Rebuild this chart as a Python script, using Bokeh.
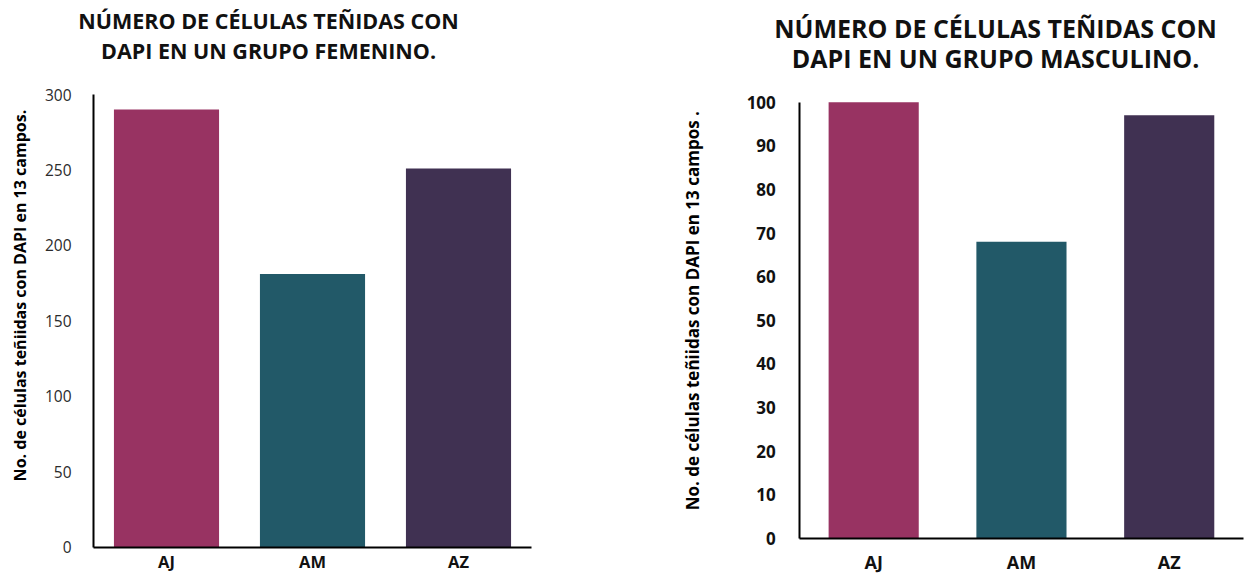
import math
from bokeh.plotting import figure
from bokeh.models import Range1d, Label, LinearAxis, FixedTicker, SingleIntervalTicker
from bokeh.embed import file_html
from bokeh.resources import INLINE

# DAPI-stained cell counts over 13 fields, per group
groups = ["AJ", "AM", "AZ"]
female_counts = [290, 181, 251]
male_counts = [100, 68, 97]
bar_colors = ["#983362", "#225968", "#403152"]

female_title = ["NÚMERO DE CÉLULAS TEÑIDAS CON", "DAPI EN UN GRUPO FEMENINO."]
male_title = ["NÚMERO DE CÉLULAS TEÑIDAS CON", "DAPI EN UN GRUPO MASCULINO."]
female_ylabel = "No. de células  teñiidas con DAPI en 13 campos."
male_ylabel = "No. de células  teñiidas con DAPI en 13 campos ."

FONT = "Open Sans"
W, H = 1244, 574

# one canvas holding both charts; each chart gets its own pair of ranges
p = figure(
    width=W, height=H,
    x_range=Range1d(0, W), y_range=Range1d(0, H),
    x_axis_location=None, y_axis_location=None,
    toolbar_location=None, output_backend="svg", title_location=None,
    min_border_left=0, min_border_right=0, min_border_top=0, min_border_bottom=0,
)
p.outline_line_color = None
p.xgrid.visible = False
p.ygrid.visible = False
p.background_fill_color = "white"
p.border_fill_color = "white"


def add_chart(key, counts, ymax, interval, title_lines, ylabel, g):
    """g: pixel geometry of the chart (axis corner, category band, value scale) and text styling."""
    n = len(groups)
    step = (g["x1"] - g["x0"]) / n
    ppu = (g["zero"] - g["top"]) / ymax
    xr, yr = key + "_x", key + "_y"
    p.extra_x_ranges = {**p.extra_x_ranges,
                        xr: Range1d(0.5 - g["x0"] / step, 0.5 + (W - g["x0"]) / step)}
    p.extra_y_ranges = {**p.extra_y_ranges,
                        yr: Range1d(-(H - g["zero"]) / ppu, ymax + g["top"] / ppu)}

    xs = list(range(1, n + 1))
    p.vbar(x=xs, top=counts, bottom=0, width=g["bw"], color=bar_colors,
           line_color=None, x_range_name=xr, y_range_name=yr)

    # value axis
    ya = LinearAxis(x_range_name=xr, y_range_name=yr, fixed_location=0.5,
                    bounds=(0, ymax), ticker=SingleIntervalTicker(interval=interval))
    ya.axis_line_color = "black"
    ya.axis_line_width = 2
    ya.major_tick_line_color = None
    ya.minor_tick_line_color = None
    ya.major_tick_out = 0
    ya.major_tick_in = 0
    ya.major_label_standoff = g["ystd"]
    ya.major_label_text_font = FONT
    ya.major_label_text_font_size = g["yt_fs"]
    ya.major_label_text_font_style = g["yt_style"]
    ya.major_label_text_color = g["yt_color"]
    p.add_layout(ya, "left")

    # category axis
    xa = LinearAxis(x_range_name=xr, y_range_name=yr, fixed_location=0,
                    bounds=(0.5, n + 0.5), ticker=FixedTicker(ticks=xs),
                    major_label_overrides={x: name for x, name in zip(xs, groups)})
    xa.axis_line_color = "black"
    xa.axis_line_width = 2
    xa.major_tick_line_color = None
    xa.minor_tick_line_color = None
    xa.major_tick_out = 0
    xa.major_tick_in = 0
    xa.major_label_standoff = g["xstd"]
    xa.major_label_text_font = FONT
    xa.major_label_text_font_size = g["xfs"]
    xa.major_label_text_font_style = "bold"
    xa.major_label_text_color = "#111111"
    p.add_layout(xa, "below")

    # two-line heading
    for line, base in zip(title_lines, g["title_base"]):
        p.add_layout(Label(
            x=g["title_cx"], y=H - base, x_units="screen", y_units="screen",
            text=line, text_font=FONT, text_font_size=g["tfs"],
            text_font_style="bold", text_color="#111111",
            text_align="center", text_baseline="alphabetic",
        ))

    # rotated value-axis title
    p.add_layout(Label(
        x=g["ylab_cx"], y=H - g["ylab_cy"], x_units="screen", y_units="screen",
        angle=math.pi / 2, text=ylabel, text_font=FONT, text_font_size=g["yfs"],
        text_font_style="bold", text_color="#000000",
        text_align="center", text_baseline="middle",
    ))


add_chart("fem", female_counts, 300, 50, female_title, female_ylabel, dict(
    x0=93, x1=531, top=94, zero=546.5, bw=0.72,
    ystd=18, yt_fs="15.5px", yt_style="normal", yt_color="#2b2b2b",
    xstd=3, xfs="16.5px",
    title_cx=268, title_base=(20, 49.5), tfs="21.5px",
    ylab_cx=19, ylab_cy=293, yfs="16px",
))
add_chart("mas", male_counts, 100, 10, male_title, male_ylabel, dict(
    x0=799.3, x1=1242.6, top=101.7, zero=537.7, bw=0.61,
    ystd=20, yt_fs="17px", yt_style="bold", yt_color="#111111",
    xstd=12, xfs="18px",
    title_cx=995, title_base=(27, 57), tfs="25px",
    ylab_cx=692, ylab_cy=308, yfs="17px",
))

open("out.html", "w").write(file_html(p, INLINE))
